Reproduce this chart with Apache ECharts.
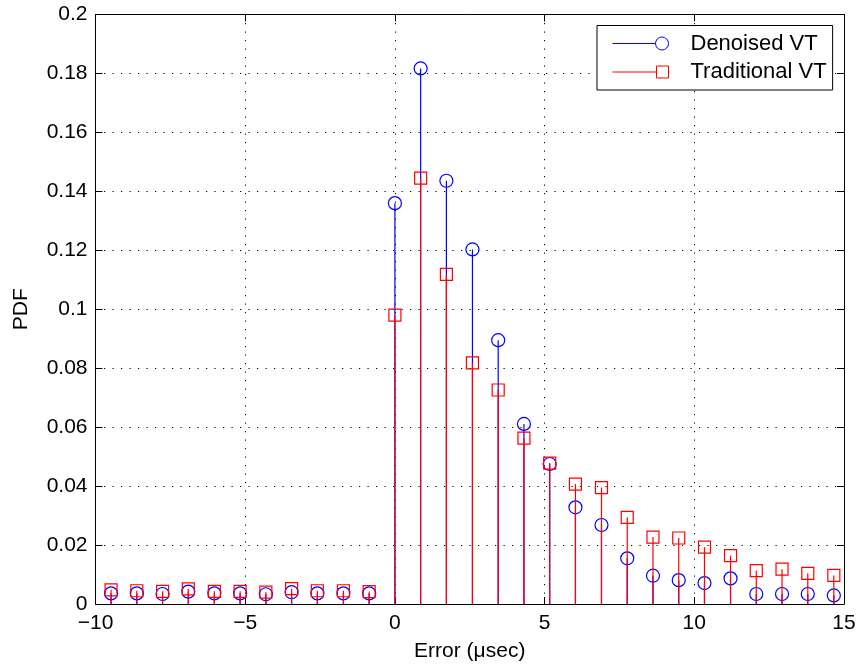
<!DOCTYPE html>
<html>
<head>
<meta charset="utf-8">
<script src="https://cdn.jsdelivr.net/npm/echarts@6/dist/echarts.min.js"></script>
<style>
  html, body { margin: 0; padding: 0; background: #fff; }
  #chart { width: 861px; height: 669px; }
</style>
</head>
<body>
<div id="chart"></div>
<script>
// Bin centres of the error histogram (µs)
const binCenters = [-9.48, -8.62, -7.76, -6.90, -6.03, -5.17, -4.31, -3.45, -2.59, -1.72, -0.86,
  0, 0.86, 1.72, 2.59, 3.45, 4.31, 5.17, 6.03, 6.90, 7.76, 8.62, 9.48, 10.34, 11.21, 12.07, 12.93, 13.79, 14.66];

// Estimated PDF per bin
const denoisedVT = [0.0036, 0.0036, 0.0034, 0.0042, 0.0036, 0.0036, 0.0033, 0.0040, 0.0036, 0.0036, 0.0036,
  0.136, 0.1817, 0.1436, 0.1203, 0.0895, 0.0611, 0.0475, 0.0328, 0.0268, 0.0155, 0.0096, 0.0081, 0.0071, 0.0087, 0.0034, 0.0034, 0.0034, 0.0029];
const traditionalVT = [0.0048, 0.0045, 0.0043, 0.0051, 0.0043, 0.0043, 0.0040, 0.0052, 0.0045, 0.0045, 0.0042,
  0.098, 0.1445, 0.1118, 0.0818, 0.0726, 0.0563, 0.0478, 0.0407, 0.0395, 0.0294, 0.0227, 0.0224, 0.0193, 0.0164, 0.0113, 0.0118, 0.0104, 0.0097];

// Axis ticks
const xTicks = [-10, -5, 0, 5, 10, 15];
const xTickLabels = ['\u221210', '\u22125', '0', '5', '10', '15'];
const yTicks = [0, 0.02, 0.04, 0.06, 0.08, 0.1, 0.12, 0.14, 0.16, 0.18, 0.2];
const yTickLabels = ['0', '0.02', '0.04', '0.06', '0.08', '0.1', '0.12', '0.14', '0.16', '0.18', '0.2'];

const FONT = '"Liberation Sans", Arial, Helvetica, sans-serif';
const BLUE = '#0000ff';
const RED = '#ff0000';

function labelFor(ticks, labels) {
  return function (v) {
    for (let i = 0; i < ticks.length; i++) {
      if (Math.abs(ticks[i] - v) < 1e-9) return labels[i];
    }
    return '';
  };
}

// Stem renderer: vertical line from zero up to the value, hollow marker on top
function stemRenderer(color, marker) {
  return function (params, api) {
    const x = api.value(0), y = api.value(1);
    const base = api.coord([x, 0]);
    const top = api.coord([x, y]);
    const children = [{
      type: 'line',
      shape: { x1: base[0], y1: base[1], x2: top[0], y2: top[1] },
      style: { stroke: color, lineWidth: 1.2 }
    }];
    if (marker === 'circle') {
      children.push({
        type: 'circle',
        shape: { cx: top[0], cy: top[1], r: 6.5 },
        style: { fill: 'none', stroke: color, lineWidth: 1.2 }
      });
    } else {
      children.push({
        type: 'rect',
        shape: { x: top[0] - 6, y: top[1] - 6, width: 12, height: 12 },
        style: { fill: 'none', stroke: color, lineWidth: 1.2 }
      });
    }
    return { type: 'group', children: children };
  };
}

const circleIcon = 'path://M0,6.5 L43,6.5 M56,6.5 A6.5,6.5 0 1 1 43,6.5 A6.5,6.5 0 1 1 56,6.5';
const squareIcon = 'path://M0,6.5 L44,6.5 M44,0.5 L56,0.5 L56,12.5 L44,12.5 Z';

const axisCommon = {
  axisLine: { show: true, onZero: false, lineStyle: { color: '#000', width: 1 } },
  axisTick: { show: true, inside: true, length: 7, lineStyle: { color: '#000', width: 1 } },
  axisLabel: { color: '#000', fontFamily: FONT, fontSize: 21 }
};

const chart = echarts.init(document.getElementById('chart'), null, { renderer: 'canvas' });

chart.setOption({
  animation: false,
  backgroundColor: '#fff',
  grid: { left: 95.5, right: 17, top: 14.5, bottom: 65, containLabel: false },
  xAxis: [
    Object.assign({}, axisCommon, {
      type: 'value', min: -10, max: 15, interval: 5, position: 'bottom',
      name: 'Error (\u03bcsec)', nameLocation: 'middle', nameGap: 37,
      nameTextStyle: { color: '#000', fontFamily: FONT, fontSize: 21 },
      axisLabel: Object.assign({}, axisCommon.axisLabel, { margin: 9, formatter: labelFor(xTicks, xTickLabels) }),
      splitLine: { show: true, lineStyle: { color: '#000', width: 1, type: [1.2, 7.3] } }
    }),
    Object.assign({}, axisCommon, {
      type: 'value', min: -10, max: 15, interval: 5, position: 'top',
      axisLabel: { show: false }, splitLine: { show: false }
    })
  ],
  yAxis: [
    Object.assign({}, axisCommon, {
      type: 'value', min: 0, max: 0.2, interval: 0.02, position: 'left',
      name: 'PDF', nameLocation: 'middle', nameGap: 64, nameRotate: 90,
      nameTextStyle: { color: '#000', fontFamily: FONT, fontSize: 21 },
      axisLabel: Object.assign({}, axisCommon.axisLabel, { margin: 8, formatter: labelFor(yTicks, yTickLabels) }),
      splitLine: { show: true, lineStyle: { color: '#000', width: 1, type: [1.2, 7.3] } }
    }),
    Object.assign({}, axisCommon, {
      type: 'value', min: 0, max: 0.2, interval: 0.02, position: 'right',
      axisLabel: { show: false }, splitLine: { show: false }
    })
  ],
  legend: {
    orient: 'vertical',
    left: 597, top: 25.5,
    padding: [6, 6, 6, 13],
    itemGap: 4.5,
    itemWidth: 56, itemHeight: 13,
    backgroundColor: '#fff',
    borderColor: '#000', borderWidth: 1, borderRadius: 0,
    align: 'left',
    selectedMode: false,
    textStyle: { color: '#000', fontFamily: FONT, fontSize: 22, lineHeight: 24, padding: [0, 0, 0, 17] },
    data: [
      { name: 'Denoised VT', icon: circleIcon, itemStyle: { color: 'none', borderColor: BLUE, borderWidth: 1 } },
      { name: 'Traditional VT', icon: squareIcon, itemStyle: { color: 'none', borderColor: RED, borderWidth: 1 } }
    ]
  },
  series: [
    {
      name: 'Denoised VT', type: 'custom', xAxisIndex: 0, yAxisIndex: 0,
      itemStyle: { color: BLUE },
      renderItem: stemRenderer(BLUE, 'circle'),
      data: binCenters.map((x, i) => [x, denoisedVT[i]]),
      clip: false, z: 2
    },
    {
      name: 'Traditional VT', type: 'custom', xAxisIndex: 0, yAxisIndex: 0,
      itemStyle: { color: RED },
      renderItem: stemRenderer(RED, 'square'),
      data: binCenters.map((x, i) => [x, traditionalVT[i]]),
      clip: false, z: 3
    }
  ]
});
</script>
</body>
</html>
